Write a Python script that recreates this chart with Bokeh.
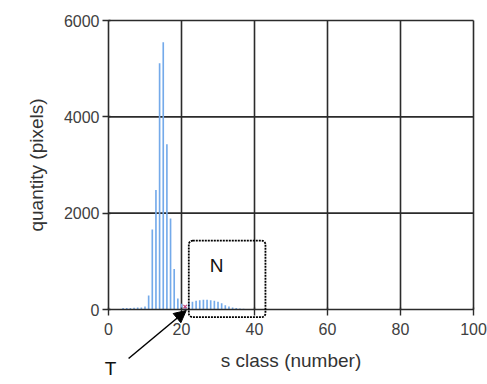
from bokeh.plotting import figure
from bokeh.models import Range1d, BoxAnnotation, Arrow, NormalHead, Label, FixedTicker
from bokeh.embed import file_html
from bokeh.resources import INLINE

# data: histogram of s classes
s_class = list(range(1, 41))
quantity = [0, 0, 0, 30, 30, 30, 35, 40, 40, 60,
            290, 1660, 2480, 5110, 5550, 3430, 1890, 840, 230, 120,
            60, 130, 160, 180, 190, 200, 200, 190, 180, 160,
            130, 90, 60, 40, 30, 20, 15, 10, 5, 0]
x_ticks = [0, 20, 40, 60, 80, 100]
y_ticks = [0, 2000, 4000, 6000]
threshold_T = [21]
threshold_val = [60]
box_N = [22, 43, -160, 1430]  # left, right, bottom, top

FONT = "Liberation Sans"
GRID = "#2b2b2b"

W, H = 487, 384
px_per_x = 3.65          # pixels per class unit
px_per_y = 289 / 6000.0  # pixels per pixel-count unit
x0_px, y0_px = 108, 309  # where (0, 0) sits on the canvas

p = figure(width=W, height=H, output_backend="svg", toolbar_location=None, title=None,
           x_range=Range1d(-x0_px / px_per_x, (W - x0_px) / px_per_x),
           y_range=Range1d(-(H - y0_px) / px_per_y, y0_px / px_per_y),
           min_border_left=0, min_border_right=0, min_border_top=0, min_border_bottom=0)
p.outline_line_color = None
p.xgrid.visible = False
p.ygrid.visible = False

# grid lines (also frame top/right), limited to the data area
gx = [t for t in x_ticks if t > 0]
gy = [t for t in y_ticks if t > 0]
p.segment(x0=gx, x1=gx, y0=[0] * len(gx), y1=[max(y_ticks)] * len(gx),
          line_color=GRID, line_width=1.6)
p.segment(x0=[0] * len(gy), x1=[max(x_ticks)] * len(gy), y0=gy, y1=gy,
          line_color=GRID, line_width=1.6)

p.vbar(x=s_class, top=quantity, width=0.45, bottom=0, fill_color="#74aaea",
       line_color=None)
p.scatter(x=threshold_T, y=threshold_val, marker="x", size=5, line_color="#c0407a", line_width=1.2)

p.xaxis.ticker = FixedTicker(ticks=x_ticks)
p.yaxis.ticker = FixedTicker(ticks=y_ticks)
p.xaxis.fixed_location = 0
p.yaxis.fixed_location = 0
p.xaxis.bounds = (min(x_ticks), max(x_ticks))
p.yaxis.bounds = (min(y_ticks), max(y_ticks))

for ax in (p.xaxis, p.yaxis):
    ax.axis_line_color = GRID
    ax.axis_line_width = 1.6
    ax.major_tick_line_color = GRID
    ax.major_tick_line_width = 1.4
    ax.major_tick_out = 6
    ax.major_tick_in = 2
    ax.minor_tick_line_color = None
    ax.major_label_text_font = FONT
    ax.major_label_text_font_size = "16px"
    ax.major_label_text_color = "#404040"
    ax.axis_label_text_font = FONT
    ax.axis_label_text_font_size = "19px"
    ax.axis_label_text_font_style = "normal"
    ax.axis_label_text_color = "#333333"

p.xaxis.axis_label = "s class (number)"
p.yaxis.axis_label = "quantity (pixels)"
p.xaxis.major_label_standoff = 7
p.yaxis.major_label_standoff = 3
p.xaxis.axis_label_standoff = 12
p.yaxis.axis_label_standoff = 14

box = BoxAnnotation(left=box_N[0], right=box_N[1], bottom=box_N[2], top=box_N[3],
                    fill_color=None, fill_alpha=0, line_color="#000000", line_alpha=1.0,
                    line_width=1.8, line_dash="2 1", border_radius=4)
p.add_layout(box)

p.add_layout(Label(x=29.6, y=913, text="N", text_font=FONT,
                   text_font_size="19px", text_align="center", text_baseline="middle",
                   text_color="#111111"))

p.add_layout(Arrow(x_start=5.5, y_start=-1017, x_end=threshold_T[0] + 0.3, y_end=-20,
                   line_color="black", line_width=1.5,
                   end=NormalHead(size=12, fill_color="black", line_color="black")))
p.add_layout(Label(x=0.55, y=-1225, text="T", text_font=FONT, text_font_size="19px",
                   text_align="center", text_baseline="middle", text_color="#111111"))

open("out.html", "w").write(file_html(p, INLINE))
